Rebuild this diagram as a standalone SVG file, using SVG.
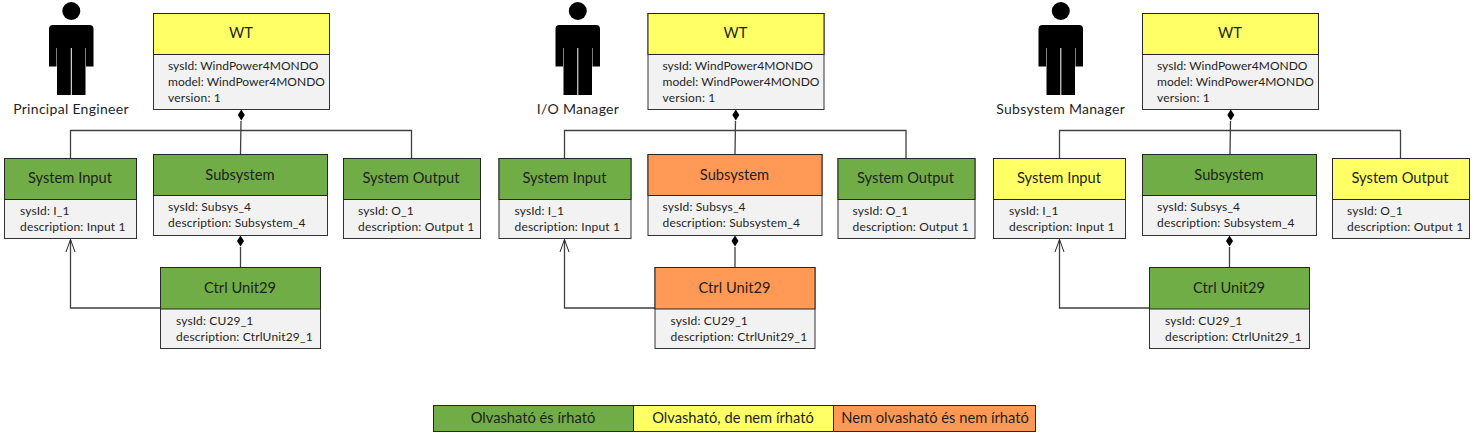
<svg xmlns="http://www.w3.org/2000/svg" width="1474" height="436" viewBox="0 0 1474 436">
<style>
text{font-family:Lato,"Open Sans","Liberation Sans",sans-serif;fill:#1f1f1f}
.t{font-size:14.7px;text-anchor:middle}
.b{font-size:12px;letter-spacing:.16px}
.w{letter-spacing:.03px}
.n{font-size:14px;letter-spacing:.3px;text-anchor:middle}
.h{stroke:#262626;stroke-width:1}
.g{fill:#70ad47}.y{fill:#ffff66}.o{fill:#ff9955}
.body{fill:#f2f2f2;stroke:#333;stroke-width:1}
.c{fill:none;stroke:#404040;stroke-width:1.3}
.a{fill:none;stroke:#262626;stroke-width:1}
.d{fill:#000}
</style>
<defs>
<g id="person"><circle cx="71.300" cy="11" r="9" fill="#000"/><path d="M53 25H89.500Q93.500 25 93.500 29V66.500H86V48H85.500V95H71.800V48H70.800V95H57V48H56.500V66.500H49V29Q49 25 53 25Z" fill="#000"/></g>
</defs>
<g id="panel1">
<g id="p1-connectors"><path class="c" d="M70.500 158V130.500H411.500V158M241 121L240.500 154"/><path class="d" d="M241.300 109.500L244.800 115L241.300 120.500L237.800 115Z"/><path class="c" d="M240.500 247V267"/><path class="d" d="M240.500 235.500L244 241L240.500 246.500L237 241Z"/><path class="c" d="M160.500 308H70.500V239.500"/><path class="a" d="M66 252L70.500 239.500L75 252"/></g>
<g id="p1-actor"><use href="#person"/><text class="n" x="71" y="114">Principal Engineer</text></g>
<g id="p1-wt"><rect class="body" x="153.500" y="13.500" width="176" height="96"/><rect class="y h" x="153.500" y="13.500" width="176" height="41"/><text class="t" x="241" y="38">WT</text><text class="b w" x="168" y="70">sysId: WindPower4MONDO</text><text class="b w" x="168" y="86">model: WindPower4MONDO</text><text class="b" x="168" y="102">version: 1</text></g>
<g id="p1-input"><rect class="body" x="4.500" y="158.500" width="132" height="80"/><rect class="g h" x="4.500" y="158.500" width="132" height="41"/><text class="t" x="70" y="183">System Input</text><text class="b" x="20" y="215">sysId: I_1</text><text class="b" x="20" y="231">description: Input 1</text></g>
<g id="p1-sub"><rect class="body" x="153.500" y="154.500" width="174" height="81"/><rect class="g h" x="153.500" y="154.500" width="174" height="41"/><text class="t" x="240" y="180">Subsystem</text><text class="b" x="168" y="211">sysId: Subsys_4</text><text class="b" x="168" y="227">description: Subsystem_4</text></g>
<g id="p1-output"><rect class="body" x="343.500" y="158.500" width="137" height="80"/><rect class="g h" x="343.500" y="158.500" width="137" height="41"/><text class="t" x="411" y="183">System Output</text><text class="b" x="358" y="215">sysId: O_1</text><text class="b" x="358" y="231">description: Output 1</text></g>
<g id="p1-ctrl"><rect class="body" x="160.500" y="267.500" width="160" height="81"/><rect class="g h" x="160.500" y="267.500" width="160" height="41.500"/><text class="t" x="240" y="293">Ctrl Unit29</text><text class="b" x="176" y="325">sysId: CU29_1</text><text class="b" x="176" y="341">description: CtrlUnit29_1</text></g>
</g>
<g id="panel2" transform="translate(494.500 0)">
<g id="p2-connectors"><path class="c" d="M70 158V130.500H411.500V158M241 121L240.500 154"/><path class="d" d="M241.300 109.500L244.800 115L241.300 120.500L237.800 115Z"/><path class="c" d="M240.500 247V267"/><path class="d" d="M240.500 235.500L244 241L240.500 246.500L237 241Z"/><path class="c" d="M160.500 308H70V239.500"/><path class="a" d="M65.500 252L70 239.500L74.500 252"/></g>
<g id="p2-actor"><use href="#person" x="12"/><text class="n" x="83.500" y="114">I/O Manager</text></g>
<g id="p2-wt"><rect class="body" x="153.500" y="13.500" width="176" height="96"/><rect class="y h" x="153.500" y="13.500" width="176" height="41"/><text class="t" x="241" y="38">WT</text><text class="b w" x="168" y="70">sysId: WindPower4MONDO</text><text class="b w" x="168" y="86">model: WindPower4MONDO</text><text class="b" x="168" y="102">version: 1</text></g>
<g id="p2-input"><rect class="body" x="4.500" y="158.500" width="132" height="80"/><rect class="g h" x="4.500" y="158.500" width="132" height="41"/><text class="t" x="70" y="183">System Input</text><text class="b" x="20" y="215">sysId: I_1</text><text class="b" x="20" y="231">description: Input 1</text></g>
<g id="p2-sub"><rect class="body" x="153.500" y="154.500" width="174" height="81"/><rect class="o h" x="153.500" y="154.500" width="174" height="41"/><text class="t" x="240" y="180">Subsystem</text><text class="b" x="168" y="211">sysId: Subsys_4</text><text class="b" x="168" y="227">description: Subsystem_4</text></g>
<g id="p2-output"><rect class="body" x="343.500" y="158.500" width="137" height="80"/><rect class="g h" x="343.500" y="158.500" width="137" height="41"/><text class="t" x="411" y="183">System Output</text><text class="b" x="358" y="215">sysId: O_1</text><text class="b" x="358" y="231">description: Output 1</text></g>
<g id="p2-ctrl"><rect class="body" x="160.500" y="267.500" width="160" height="81"/><rect class="o h" x="160.500" y="267.500" width="160" height="41.500"/><text class="t" x="240" y="293">Ctrl Unit29</text><text class="b" x="176" y="325">sysId: CU29_1</text><text class="b" x="176" y="341">description: CtrlUnit29_1</text></g>
</g>
<g id="panel3" transform="translate(989 0)">
<g id="p3-connectors"><path class="c" d="M70.500 158V130.500H411.500V158M241.500 121L241 154"/><path class="d" d="M241.800 109.500L245.300 115L241.800 120.500L238.300 115Z"/><path class="c" d="M240.500 247V267"/><path class="d" d="M240.500 235.500L244 241L240.500 246.500L237 241Z"/><path class="c" d="M160.500 308H70.500V239.500"/><path class="a" d="M66 252L70.500 239.500L75 252"/></g>
<g id="p3-actor"><use href="#person" x="0.500"/><text class="n" x="71.700" y="114">Subsystem Manager</text></g>
<g id="p3-wt"><rect class="body" x="153.500" y="13.500" width="176" height="96"/><rect class="y h" x="153.500" y="13.500" width="176" height="41"/><text class="t" x="241" y="38">WT</text><text class="b w" x="168" y="70">sysId: WindPower4MONDO</text><text class="b w" x="168" y="86">model: WindPower4MONDO</text><text class="b" x="168" y="102">version: 1</text></g>
<g id="p3-input"><rect class="body" x="4.500" y="158.500" width="132" height="80"/><rect class="y h" x="4.500" y="158.500" width="132" height="41"/><text class="t" x="70" y="183">System Input</text><text class="b" x="20" y="215">sysId: I_1</text><text class="b" x="20" y="231">description: Input 1</text></g>
<g id="p3-sub"><rect class="body" x="153.500" y="154.500" width="174" height="81"/><rect class="g h" x="153.500" y="154.500" width="174" height="41"/><text class="t" x="240" y="180">Subsystem</text><text class="b" x="168" y="211">sysId: Subsys_4</text><text class="b" x="168" y="227">description: Subsystem_4</text></g>
<g id="p3-output"><rect class="body" x="343.500" y="158.500" width="137" height="80"/><rect class="y h" x="343.500" y="158.500" width="137" height="41"/><text class="t" x="411" y="183">System Output</text><text class="b" x="358" y="215">sysId: O_1</text><text class="b" x="358" y="231">description: Output 1</text></g>
<g id="p3-ctrl"><rect class="body" x="160.500" y="267.500" width="160" height="81"/><rect class="g h" x="160.500" y="267.500" width="160" height="41.500"/><text class="t" x="240" y="293">Ctrl Unit29</text><text class="b" x="176" y="325">sysId: CU29_1</text><text class="b" x="176" y="341">description: CtrlUnit29_1</text></g>
</g>
<g id="legend">
<g id="legend-rw"><rect class="g h" x="433.500" y="405.500" width="200" height="26"/><text class="t" x="533" y="423">Olvasható és írható</text></g>
<g id="legend-r"><rect class="y h" x="633.500" y="405.500" width="200" height="26"/><text class="t" x="733" y="423">Olvasható, de nem írható</text></g>
<g id="legend-none"><rect class="o h" x="833.500" y="405.500" width="202" height="26"/><text class="t" x="935" y="423">Nem olvasható és nem írható</text></g>
</g>
</svg>
